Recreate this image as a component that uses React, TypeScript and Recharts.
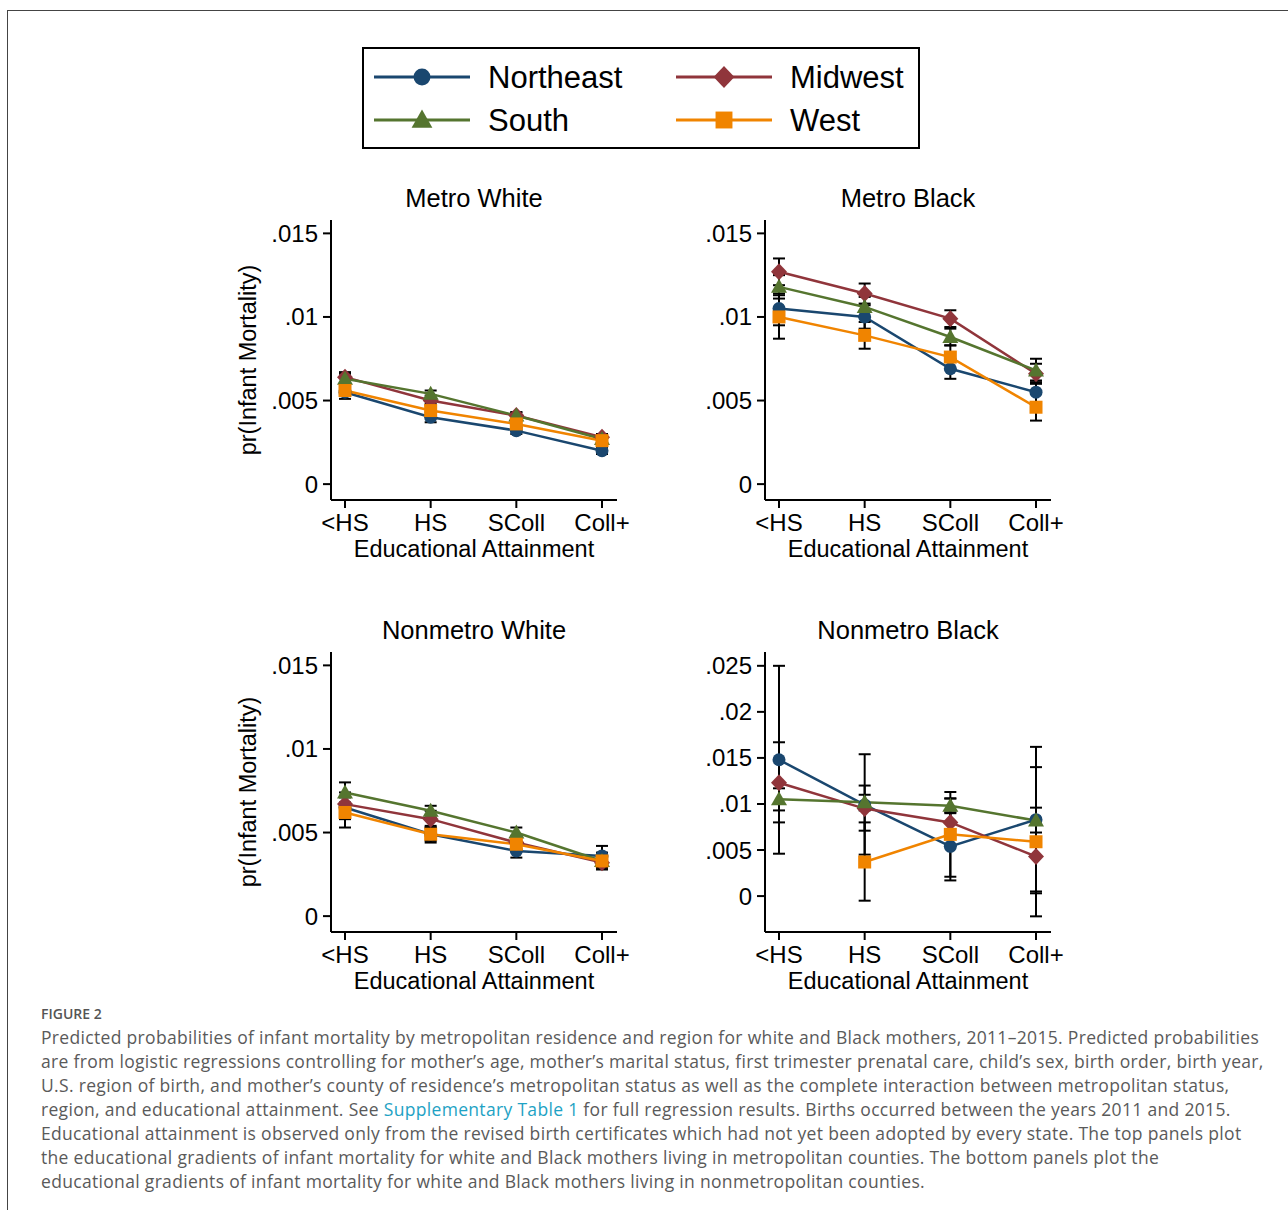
import { LineChart, Line, XAxis, YAxis, ErrorBar } from "recharts";

const categories = ["<HS", "HS", "SColl", "Coll+"];
const regions = ["Northeast", "Midwest", "South", "West"];

const whiteTicks = [0, 0.005, 0.01, 0.015];
const nonmetroBlackTicks = [0, 0.005, 0.01, 0.015, 0.02, 0.025];

// point estimates, one value per education level
const metroWhiteMean = {
  Northeast: [0.0055, 0.004, 0.0032, 0.002],
  Midwest: [0.0064, 0.005, 0.0041, 0.0028],
  South: [0.0063, 0.0054, 0.0041, 0.0027],
  West: [0.0056, 0.0044, 0.0036, 0.0026],
};
const metroWhiteCI = {
  Northeast: [[0.0051, 0.0059], [0.0037, 0.0043], [0.003, 0.0034], [0.0018, 0.0022]],
  Midwest: [[0.006, 0.0067], [0.0048, 0.0053], [0.0039, 0.0043], [0.0026, 0.003]],
  South: [[0.006, 0.0066], [0.0051, 0.0056], [0.0039, 0.0043], [0.0025, 0.0029]],
  West: [[0.0053, 0.006], [0.0041, 0.0047], [0.0034, 0.0038], [0.0024, 0.0028]],
};

const metroBlackMean = {
  Northeast: [0.0105, 0.01, 0.0069, 0.0055],
  Midwest: [0.0127, 0.0114, 0.0099, 0.0066],
  South: [0.0118, 0.0106, 0.0088, 0.0068],
  West: [0.01, 0.0089, 0.0076, 0.0046],
};
const metroBlackCI = {
  Northeast: [[0.0095, 0.0114], [0.0093, 0.0107], [0.0063, 0.0075], [0.0049, 0.0061]],
  Midwest: [[0.0119, 0.0135], [0.0108, 0.012], [0.0094, 0.0104], [0.006, 0.0072]],
  South: [[0.0111, 0.0125], [0.01, 0.0112], [0.0083, 0.0093], [0.0062, 0.0075]],
  West: [[0.0087, 0.0113], [0.0081, 0.0097], [0.0069, 0.0083], [0.0038, 0.0054]],
};

const nonmetroWhiteMean = {
  Northeast: [0.0065, 0.0049, 0.0039, 0.0036],
  Midwest: [0.0067, 0.0058, 0.0044, 0.0032],
  South: [0.0074, 0.0063, 0.005, 0.0033],
  West: [0.0062, 0.0049, 0.0043, 0.0033],
};
const nonmetroWhiteCI = {
  Northeast: [[0.0058, 0.0072], [0.0045, 0.0053], [0.0035, 0.0043], [0.0031, 0.0042]],
  Midwest: [[0.006, 0.0074], [0.0053, 0.0063], [0.004, 0.0048], [0.0028, 0.0036]],
  South: [[0.0068, 0.008], [0.0059, 0.0066], [0.0047, 0.0053], [0.0029, 0.0037]],
  West: [[0.0053, 0.0071], [0.0044, 0.0054], [0.0039, 0.0047], [0.0028, 0.0038]],
};

const nonmetroBlackMean = {
  Northeast: [0.0148, 0.0099, 0.0054, 0.0083],
  Midwest: [0.0123, 0.0095, 0.008, 0.0043],
  South: [0.0105, 0.0102, 0.0098, 0.0082],
  West: [null, 0.0037, 0.0067, 0.0059],
};
const nonmetroBlackCI = {
  Northeast: [[0.0046, 0.025], [0.0045, 0.0154], [0.0017, 0.009], [0.0003, 0.0162]],
  Midwest: [[0.008, 0.0167], [0.0071, 0.012], [0.0054, 0.0106], [0.0005, 0.0081]],
  South: [[0.0093, 0.0117], [0.0093, 0.011], [0.0091, 0.0106], [0.0069, 0.0096]],
  West: [null, [-0.0005, 0.008], [0.0021, 0.0113], [-0.0022, 0.014]],
};

const colors: Record<string, string> = {
  Northeast: "#1a476f",
  Midwest: "#90353b",
  South: "#55752f",
  West: "#f08400",
};
const shapes: Record<string, string> = {
  Northeast: "circle",
  Midwest: "diamond",
  South: "triangle",
  West: "square",
};

const FONT = "'Liberation Sans', Arial, sans-serif";
const CAPTION_FONT = "'Open Sans', Lato, sans-serif";

function Marker({ cx, cy, kind, color, s = 1 }: any) {
  if (cx == null || cy == null) return <g />;
  if (kind === "circle") return <circle cx={cx} cy={cy} r={6.5 * s} fill={color} />;
  if (kind === "diamond") {
    const w = 8 * s, h = 8.5 * s;
    return <polygon points={`${cx},${cy - h} ${cx + w},${cy} ${cx},${cy + h} ${cx - w},${cy}`} fill={color} />;
  }
  if (kind === "triangle") {
    const w = 8 * s;
    return <polygon points={`${cx},${cy - 8 * s} ${cx + w},${cy + 6 * s} ${cx - w},${cy + 6 * s}`} fill={color} />;
  }
  const h = 6.5 * s;
  return <rect x={cx - h} y={cy - h} width={2 * h} height={2 * h} fill={color} />;
}

const fmt = (v: number) => (v === 0 ? "0" : String(v).replace(/^0\./, "."));

function Panel({ title, mean, ci, ticks, domain, left, top, yLabel }: any) {
  const rows = categories.map((edu, i) => {
    const row: any = { edu };
    regions.forEach(r => {
      const m = mean[r][i];
      const c = ci[r][i];
      row[r] = m;
      row[r + "Err"] = m == null || c == null ? null : [m - c[0], c[1] - m];
    });
    return row;
  });

  return (
    <div style={{ position: "absolute", left, top, width: 460, height: 400 }}>
      <div
        style={{
          position: "absolute",
          left: 120,
          width: 286,
          top: 6,
          textAlign: "center",
          fontSize: 25.5,
          lineHeight: "25.5px",
          whiteSpace: "nowrap",
        }}
      >
        {title}
      </div>
      <LineChart width={460} height={400} data={rows} margin={{ top: 40, right: 54, bottom: 0, left: 0 }}>
        <XAxis
          dataKey="edu"
          height={80}
          padding={{ left: 14, right: 15 }}
          interval={0}
          axisLine={{ stroke: "#000", strokeWidth: 2 }}
          tickLine={{ stroke: "#000", strokeWidth: 2 }}
          tickSize={8}
          tickMargin={6}
          tick={{ fill: "#000", fontSize: 24 }}
          label={{ value: "Educational Attainment", position: "insideBottom", offset: 23, fill: "#000", fontSize: 23.5 }}
        />
        <YAxis
          width={120}
          domain={domain}
          allowDataOverflow
          ticks={ticks}
          interval={0}
          tickFormatter={fmt}
          axisLine={{ stroke: "#000", strokeWidth: 2 }}
          tickLine={{ stroke: "#000", strokeWidth: 2 }}
          tickSize={8}
          tickMargin={5}
          tick={{ fill: "#000", fontSize: 24 }}
          label={
            yLabel
              ? {
                  content: (p: any) => {
                    const vb = p.viewBox || {};
                    const x = (vb.x ?? 0) + 37;
                    const y = vb.height ? vb.y + vb.height / 2 : 180;
                    return (
                      <text
                        x={x}
                        y={y}
                        transform={`rotate(-90 ${x} ${y})`}
                        textAnchor="middle"
                        dominantBaseline="central"
                        fontSize={23.5}
                        fill="#000"
                      >
                        pr(Infant Mortality)
                      </text>
                    );
                  },
                }
              : undefined
          }
        />
        {regions.map(r => (
          <Line
            key={r}
            dataKey={r}
            stroke={colors[r]}
            strokeWidth={2.5}
            isAnimationActive={false}
            dot={(p: any) => (
              <Marker key={`${r}-${p.index}`} cx={p.cx} cy={p.cy} kind={shapes[r]} color={colors[r]} />
            )}
            activeDot={false}
          >
            <ErrorBar dataKey={r + "Err"} width={6} stroke="#000" strokeWidth={2} direction="y" />
          </Line>
        ))}
      </LineChart>
    </div>
  );
}

function LegendBox() {
  const items = [
    { r: "Northeast", x: 12, y: 30 },
    { r: "Midwest", x: 314, y: 30 },
    { r: "South", x: 12, y: 73 },
    { r: "West", x: 314, y: 73 },
  ];
  return (
    <svg style={{ position: "absolute", left: 362, top: 47 }} width={558} height={102}>
      <rect x={1} y={1} width={556} height={100} fill="#fff" stroke="#000" strokeWidth={2} />
      {items.map(it => (
        <g key={it.r}>
          <line x1={it.x} x2={it.x + 96} y1={it.y} y2={it.y} stroke={colors[it.r]} strokeWidth={3} />
          <Marker cx={it.x + 48} cy={it.y} kind={shapes[it.r]} color={colors[it.r]} s={1.3} />
          <text x={it.x + 114} y={it.y + 11} fontSize={31} fill="#000">
            {it.r}
          </text>
        </g>
      ))}
    </svg>
  );
}

const captionLines = [
  "Predicted probabilities of infant mortality by metropolitan residence and region for white and Black mothers, 2011\u20132015. Predicted probabilities",
  "are from logistic regressions controlling for mother\u2019s age, mother\u2019s marital status, first trimester prenatal care, child\u2019s sex, birth order, birth year,",
  "U.S. region of birth, and mother\u2019s county of residence\u2019s metropolitan status as well as the complete interaction between metropolitan status,",
  "LINK",
  "Educational attainment is observed only from the revised birth certificates which had not yet been adopted by every state. The top panels plot",
  "the educational gradients of infant mortality for white and Black mothers living in metropolitan counties. The bottom panels plot the",
  "educational gradients of infant mortality for white and Black mothers living in nonmetropolitan counties.",
];

export default function App() {
  return (
    <div
      style={{
        position: "absolute",
        left: 0,
        top: 0,
        width: 1288,
        height: 1210,
        background: "#fff",
        fontFamily: FONT,
        color: "#000",
        overflow: "hidden",
      }}
    >
      <div
        style={{
          position: "absolute",
          left: 7,
          top: 10,
          width: 1290,
          height: 1210,
          borderTop: "1px solid #444",
          borderLeft: "1px solid #444",
        }}
      />
      <LegendBox />
      <Panel title="Metro White" mean={metroWhiteMean} ci={metroWhiteCI} ticks={whiteTicks} domain={[-0.00095, 0.0158]} left={211} top={180} yLabel />
      <Panel title="Metro Black" mean={metroBlackMean} ci={metroBlackCI} ticks={whiteTicks} domain={[-0.00095, 0.0158]} left={645} top={180} />
      <Panel title="Nonmetro White" mean={nonmetroWhiteMean} ci={nonmetroWhiteCI} ticks={whiteTicks} domain={[-0.00095, 0.0158]} left={211} top={612} yLabel />
      <Panel title="Nonmetro Black" mean={nonmetroBlackMean} ci={nonmetroBlackCI} ticks={nonmetroBlackTicks} domain={[-0.0039, 0.0265]} left={645} top={612} />
      <div
        style={{
          position: "absolute",
          left: 41,
          top: 1004,
          fontFamily: CAPTION_FONT,
          fontSize: 14,
          fontWeight: 600,
          color: "#555",
        }}
      >
        FIGURE 2
      </div>
      <div
        style={{
          position: "absolute",
          left: 41,
          top: 1024.5,
          fontFamily: CAPTION_FONT,
          fontSize: 17.5,
          letterSpacing: 0.32,
          lineHeight: "24px",
          color: "#5a5a5a",
        }}
      >
        {captionLines.map((l, i) =>
          l === "LINK" ? (
            <div key={i} style={{ whiteSpace: "nowrap" }}>
              region, and educational attainment. See <span style={{ color: "#1ea2c4" }}>Supplementary Table 1</span> for
              full regression results. Births occurred between the years 2011 and 2015.
            </div>
          ) : (
            <div key={i} style={{ whiteSpace: "nowrap" }}>
              {l}
            </div>
          )
        )}
      </div>
    </div>
  );
}
